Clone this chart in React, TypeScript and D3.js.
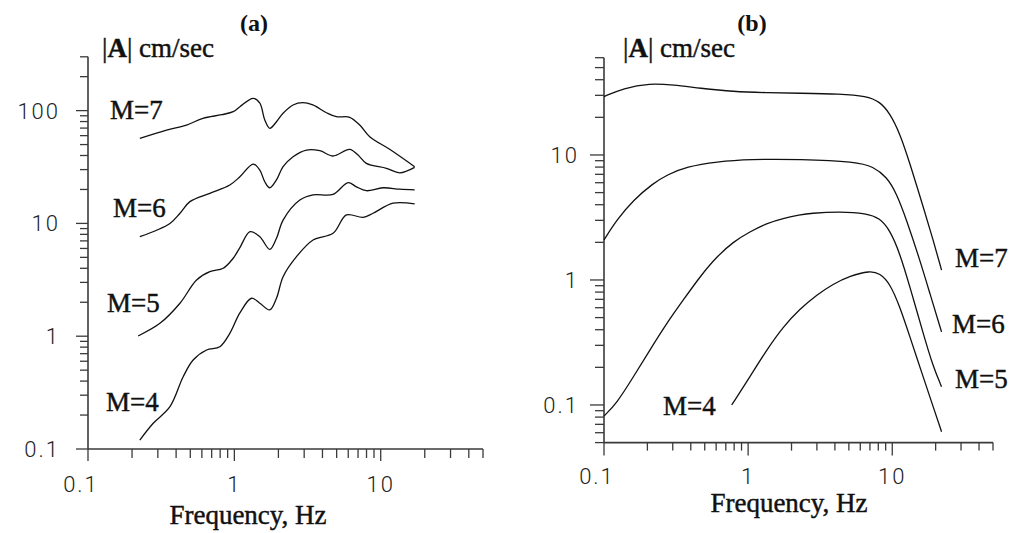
import React from "react";
import * as d3 from "d3";

// ---------- Data (frequency Hz, |A| cm/sec) ----------
// Panel (a)
const a_M7: [number, number][] = [
  [0.226, 56.8], [0.344, 67.3], [0.472, 74.5], [0.61, 85.4], [0.82, 92], [0.982, 97.8], [1.091, 108.4],
  [1.344, 128.6], [1.493, 116.7], [1.614, 82.6], [1.746, 69.7], [1.94, 79.7], [2.153, 94.7],
  [2.518, 112.2], [2.935, 117.6], [3.436, 112.2], [4.259, 95.8], [4.985, 88.3], [6.14, 87.3],
  [7.19, 74.5], [8.41, 58.7], [11.51, 45.4], [17.06, 31.8],
];
const a_M6: [number, number][] = [
  [0.226, 7.62], [0.363, 10.0], [0.425, 12.3], [0.497, 15.6], [0.68, 18.5], [0.931, 21.9],
  [1.091, 25.9], [1.344, 33.6], [1.493, 29.7], [1.614, 23.4], [1.746, 20.7], [1.94, 24.3],
  [2.153, 31.8], [2.518, 39.0], [3.112, 44.7], [3.835, 44.1], [4.725, 39.6], [6.14, 45.4],
  [6.998, 40.4], [7.98, 34.1], [10.94, 30.8], [13.49, 28.1], [17.06, 31.4],
];
const a_M5: [number, number][] = [
  [0.22, 1.005], [0.31, 1.3], [0.425, 1.96], [0.552, 3.15], [0.68, 3.73], [0.839, 4.0],
  [0.982, 4.91], [1.091, 6.11], [1.28, 8.44], [1.493, 7.62], [1.746, 5.89], [1.94, 7.38],
  [2.153, 10.7], [2.801, 16.1], [3.45, 17.9], [4.725, 18.1], [5.984, 23.0], [6.823, 21.1],
  [7.98, 19.5], [10.37, 20.7], [13.49, 20.1], [17.06, 19.8],
];
const a_M4: [number, number][] = [
  [0.226, 0.12], [0.279, 0.169], [0.363, 0.237], [0.447, 0.437], [0.523, 0.615], [0.646, 0.755],
  [0.796, 0.807], [0.931, 1.061], [1.091, 1.61], [1.31, 2.17], [1.493, 1.96], [1.746, 1.71],
  [1.94, 2.17], [2.153, 3.37], [2.658, 5.07], [3.45, 7.13], [4.725, 8.17], [5.834, 11.9],
  [7.57, 11.3], [8.86, 12.3], [12.14, 15.1], [17.06, 14.9],
];

// Panel (b)
const b_M7: [number, number][] = [
  [0.1, 29.3], [0.136, 34.2], [0.208, 37.5], [0.303, 36.3], [0.463, 34.2], [0.788, 32.1],
  [1.343, 31.5], [2.286, 31.2], [4.335, 30.8], [6.63, 29.6], [8.2, 26.7], [9.62, 21.6],
  [11.29, 14.9], [13.25, 8.58], [16.38, 3.86], [19.22, 2.09], [21.98, 1.2],
];
const b_M6: [number, number][] = [
  [0.1, 2.09], [0.1225, 3.02], [0.16, 4.37], [0.22, 5.94], [0.272, 6.92], [0.375, 8.06],
  [0.605, 8.84], [1.029, 9.24], [2.286, 9.24], [5.65, 8.84], [7.37, 8.06], [9.13, 6.7],
  [10.71, 4.94], [12.57, 3.02], [15.54, 1.445], [18.23, 0.783], [21.98, 0.384],
];
const b_M5: [number, number][] = [
  [0.1, 0.0817], [0.1225, 0.103], [0.16, 0.168], [0.208, 0.275], [0.272, 0.45], [0.355, 0.692],
  [0.463, 1.062], [0.605, 1.535], [0.788, 2.02], [1.029, 2.43], [1.343, 2.84], [1.751, 3.12],
  [2.286, 3.31], [2.685, 3.42], [4.335, 3.52], [6.63, 3.42], [8.2, 3.12], [9.62, 2.51],
  [11.29, 1.637], [13.25, 0.883], [16.38, 0.375], [19.22, 0.202], [21.98, 0.14],
];
const b_M4: [number, number][] = [
  [0.769, 0.1], [1.029, 0.168], [1.343, 0.275], [1.751, 0.423], [2.286, 0.586], [2.985, 0.759],
  [3.89, 0.929], [5.08, 1.077], [6.99, 1.186], [8.2, 1.13], [9.62, 0.942],
  [11.29, 0.611], [13.25, 0.352], [16.38, 0.168], [19.22, 0.0969], [21.98, 0.0611],
];

const xTickLabels = ["0.1", "1", "10"];
const yTickLabelsA = ["0.1", "1", "10", "100"];
const yTickLabelsB = ["0.1", "1", "10"];
const seriesNames = ["M=7", "M=6", "M=5", "M=4"];

// ---------- helpers ----------
function logTicks(lo: number, hi: number) {
  const out: { v: number; major: boolean }[] = [];
  const d0 = Math.floor(Math.log10(lo));
  const d1 = Math.ceil(Math.log10(hi));
  for (let d = d0; d <= d1; d++) {
    for (let k = 1; k <= 9; k++) {
      const v = k * Math.pow(10, d);
      if (v >= lo * 0.9999 && v <= hi * 1.0001) out.push({ v, major: k === 1 });
    }
  }
  return out;
}

const SERIF = "'Liberation Serif', 'Times New Roman', serif";
const SANS = "Roboto, 'Liberation Sans', Arial, sans-serif";

type PanelProps = {
  xRange: [number, number];
  yDomain: [number, number];
  yRange: [number, number];
  yTickLabels: string[];
  series: [number, number][][];
  smooth: boolean;
  labels: { text: string; x: number; y: number }[];
  title: { text: string; x: number; y: number };
  ylabel: { x: number; y: number };
  xlabel: { x: number; y: number };
  xTick: { major: number; minor: number; labelY: number };
  yTick: { major: number; minor: number; labelX: number };
};

function Panel(p: PanelProps) {
  const x = d3.scaleLog().domain([0.1, 50]).range(p.xRange);
  const y = d3.scaleLog().domain(p.yDomain).range(p.yRange);
  const line = d3
    .line<[number, number]>()
    .x((d) => x(d[0]))
    .y((d) => y(d[1]))
    .curve(p.smooth ? d3.curveBasis : d3.curveCatmullRom.alpha(0.5));
  const x0 = p.xRange[0];
  const y0 = p.yRange[0];
  const axisColor = "#3a3a3a";
  const textStroke = { stroke: "#111", strokeWidth: 0.45 };
  return (
    <g>
      {/* axes */}
      <line x1={x0} x2={x0} y1={p.yRange[1]} y2={y0} stroke={axisColor} strokeWidth={1.6} />
      <line x1={x0} x2={p.xRange[1]} y1={y0} y2={y0} stroke={axisColor} strokeWidth={1.6} />
      {logTicks(0.1, 50).map((t, i) => (
        <line
          key={"xt" + i}
          x1={x(t.v)}
          x2={x(t.v)}
          y1={y0}
          y2={y0 + (t.major ? p.xTick.major : p.xTick.minor)}
          stroke={axisColor}
          strokeWidth={1.3}
        />
      ))}
      {logTicks(p.yDomain[0], p.yDomain[1]).map((t, i) => (
        <line
          key={"yt" + i}
          x1={x0 - (t.major ? p.yTick.major : p.yTick.minor)}
          x2={x0}
          y1={y(t.v)}
          y2={y(t.v)}
          stroke={axisColor}
          strokeWidth={1.3}
        />
      ))}
      {xTickLabels.map((s) => (
        <text
          key={"xl" + s}
          x={x(+s) + (s === "0.1" ? -7 : 0)}
          y={p.xTick.labelY}
          textAnchor="middle"
          fontFamily={SANS}
          fontWeight={300}
          fontSize={22}
          letterSpacing={2}
          fill="#222"
        >
          {s}
        </text>
      ))}
      {p.yTickLabels.map((s) => (
        <text
          key={"yl" + s}
          x={p.yTick.labelX}
          y={y(+s)}
          dy="0.36em"
          textAnchor="end"
          fontFamily={SANS}
          fontWeight={300}
          fontSize={22}
          letterSpacing={2}
          fill="#222"
        >
          {s}
        </text>
      ))}
      {/* curves */}
      {p.series.map((s, i) => (
        <path key={"s" + i} d={line(s) || ""} fill="none" stroke="#111" strokeWidth={1.3} />
      ))}
      {/* labels */}
      {p.labels.map((l) => (
        <text key={l.text} x={l.x} y={l.y} fontFamily={SERIF} fontSize={27} fill="#111" {...textStroke}>
          {l.text}
        </text>
      ))}
      <text
        x={p.title.x}
        y={p.title.y}
        textAnchor="middle"
        fontFamily={SERIF}
        fontSize={24}
        fontWeight="bold"
        fill="#111"
      >
        {p.title.text}
      </text>
      <text x={p.ylabel.x} y={p.ylabel.y} fontFamily={SERIF} fontSize={27} fill="#111" {...textStroke}>
        |<tspan fontWeight="bold">A</tspan>| cm/sec
      </text>
      <text
        x={p.xlabel.x}
        y={p.xlabel.y}
        textAnchor="middle"
        fontFamily={SERIF}
        fontSize={27}
        fill="#111"
        {...textStroke}
      >
        Frequency, Hz
      </text>
    </g>
  );
}

export default function App() {
  return (
    <svg
      width={1010}
      height={533}
      style={{ position: "absolute", left: 0, top: 0, background: "#fff" }}
    >
      <rect width={1010} height={533} fill="#fff" />
      <Panel
        xRange={[88, 483]}
        yDomain={[0.1, 300]}
        yRange={[449, 56.8]}
        yTickLabels={yTickLabelsA}
        series={[a_M7, a_M6, a_M5, a_M4]}
        smooth={false}
        labels={[
          { text: seriesNames[0], x: 110, y: 119 },
          { text: seriesNames[1], x: 113, y: 217 },
          { text: seriesNames[2], x: 107, y: 312 },
          { text: seriesNames[3], x: 106, y: 411 },
        ]}
        title={{ text: "(a)", x: 254, y: 31 }}
        ylabel={{ x: 102, y: 57 }}
        xlabel={{ x: 248, y: 524 }}
        xTick={{ major: 12, minor: 9, labelY: 492 }}
        yTick={{ major: 12, minor: 8, labelX: 60 }}
      />
      <Panel
        xRange={[604, 993]}
        yDomain={[0.05, 60]}
        yRange={[442.6, 57.7]}
        yTickLabels={yTickLabelsB}
        series={[b_M7, b_M6, b_M5, b_M4]}
        smooth={true}
        labels={[
          { text: seriesNames[0], x: 955, y: 267 },
          { text: seriesNames[1], x: 952, y: 333 },
          { text: seriesNames[2], x: 955, y: 388 },
          { text: seriesNames[3], x: 663, y: 415 },
        ]}
        title={{ text: "(b)", x: 752, y: 31 }}
        ylabel={{ x: 623, y: 57 }}
        xlabel={{ x: 789, y: 512 }}
        xTick={{ major: 13, minor: 8, labelY: 484 }}
        yTick={{ major: 14, minor: 9, labelX: 579 }}
      />
    </svg>
  );
}
